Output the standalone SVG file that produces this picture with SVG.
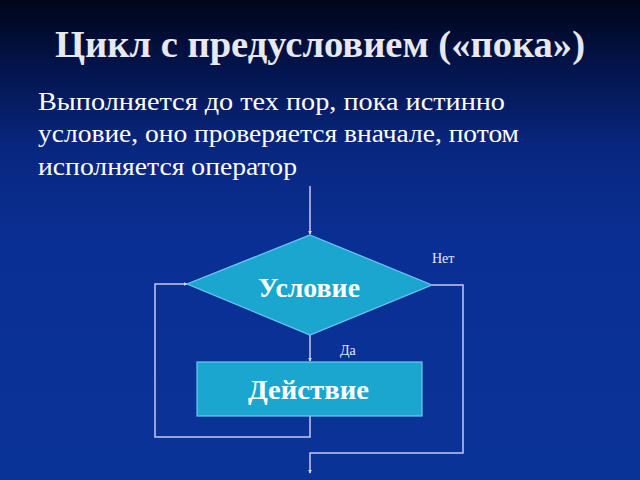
<svg xmlns="http://www.w3.org/2000/svg" width="640" height="480" viewBox="0 0 640 480">
<defs>
<linearGradient id="bg" x1="0" y1="0" x2="0" y2="1">
<stop offset="0" stop-color="#000519"/>
<stop offset="0.12" stop-color="#031245"/>
<stop offset="0.3" stop-color="#08267e"/>
<stop offset="0.5" stop-color="#0a2f94"/>
<stop offset="1" stop-color="#0a3398"/>
</linearGradient>
<marker id="arr" viewBox="0 0 6 6" refX="5" refY="3" markerWidth="4" markerHeight="4" orient="auto" markerUnits="userSpaceOnUse">
<path d="M0,0 L6,3 L0,6 z" fill="#d8d8f4"/>
</marker>
<style>
.title{font-family:"Liberation Serif",serif;font-weight:bold;font-size:37px;fill:#e8e8f2}
.body{font-family:"Liberation Serif",serif;font-size:26px;fill:#ffffff}
.lbl{font-family:"Liberation Serif",serif;font-weight:bold;font-size:27px;fill:#ffffff}
.small{font-family:"Liberation Serif",serif;font-size:14px;fill:#e8e8f4}
.conn{fill:none;stroke:#c8c8f0;stroke-width:1.5}
.shape{fill:#1ba6cf;stroke:#6ec8f0;stroke-width:1.2}
</style>
</defs>
<rect width="640" height="480" fill="url(#bg)"/>
<text class="title" x="55" y="57" textLength="530" lengthAdjust="spacingAndGlyphs">Цикл с предусловием («пока»)</text>
<text class="body" x="38" y="110" textLength="467" lengthAdjust="spacingAndGlyphs">Выполняется до тех пор, пока истинно</text>
<text class="body" x="38" y="142" textLength="481" lengthAdjust="spacingAndGlyphs">условие, оно проверяется вначале, потом</text>
<text class="body" x="38" y="175" textLength="259" lengthAdjust="spacingAndGlyphs">исполняется оператор</text>
<g id="connectors">
<line class="conn" x1="310" y1="186" x2="310" y2="234" marker-end="url(#arr)"/>
<line class="conn" x1="310" y1="335" x2="310" y2="361" marker-end="url(#arr)"/>
<polyline class="conn" points="310,416 310,437 155,437 155,284 187,284" marker-end="url(#arr)"/>
<polyline class="conn" points="432,285 463,285 463,453 310,453 310,473" marker-end="url(#arr)"/>
</g>
<g id="condition">
<polygon class="shape" points="310,235 432,285 310,335 187,284"/>
<text class="lbl" x="258" y="297" textLength="102" lengthAdjust="spacingAndGlyphs">Условие</text>
</g>
<g id="action">
<rect class="shape" x="197" y="362" width="225" height="54"/>
<text class="lbl" x="248" y="399" textLength="121" lengthAdjust="spacingAndGlyphs">Действие</text>
</g>
<g id="labels">
<text class="small" x="432" y="263">Нет</text>
<text class="small" x="340" y="355">Да</text>
</g>
</svg>
